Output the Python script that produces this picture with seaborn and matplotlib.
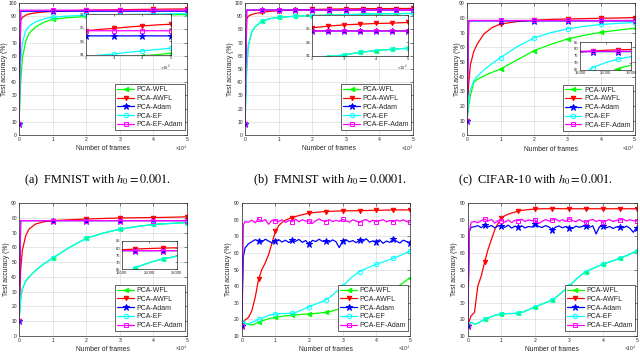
import matplotlib
matplotlib.use("Agg")
import matplotlib.pyplot as plt
import seaborn as sns

# ---------------- data ----------------
LABELS = ["PCA-WFL", "PCA-AWFL", "PCA-Adam", "PCA-EF", "PCA-EF-Adam"]
COLORS = ["#00ff00", "#ff0000", "#0000ff", "#00ffff", "#ff00ff"]
MARKERS = ["<", "v", "*", "o", "s"]
FILLED = [True, True, True, False, False]

X_TICKS = [0, 10000, 20000, 30000, 40000, 50000]
X_TICKLABELS = ["0", "1", "2", "3", "4", "5"]

# smooth curves (panels a-d), x in frames
X_SMOOTH = [0, 500, 1000, 2000, 3000, 5000, 7500, 10000, 15000, 20000,
            25000, 30000, 35000, 40000, 45000, 50000]

A_WFL = [8, 40, 58, 71, 77, 82, 85.5, 87.7, 89.0, 89.7, 90.2, 90.5, 90.75, 90.9, 91.05, 91.25]
A_AWFL = [8, 87, 89, 90.8, 91.7, 92.6, 93.2, 93.6, 94.2, 94.55, 94.75, 94.9, 95.1, 95.25, 95.4, 95.5]
A_ADAM = [8, 93.8, 93.8, 93.8, 93.8, 93.8, 93.8, 93.8, 93.8, 93.8, 93.8, 93.8, 93.8, 93.8, 93.8, 93.8]
A_EF = [8, 55, 70, 79, 82.5, 85.8, 88, 89.3, 90.2, 90.7, 91.0, 91.15, 91.4, 91.6, 91.8, 92.0]
A_EFADAM = [8, 94.55, 94.55, 94.55, 94.55, 94.55, 94.55, 94.55, 94.55, 94.55, 94.55, 94.55, 94.55, 94.55, 94.55, 94.55]

B_WFL = [8, 50, 68, 78, 82, 86.3, 88.2, 89.1, 90.0, 90.5, 90.85, 91.1, 91.5, 91.75, 91.95, 92.1]
B_AWFL = [8, 88, 90, 91.3, 92, 92.9, 93.7, 94.2, 94.7, 95.1, 95.35, 95.55, 95.65, 95.75, 95.8, 95.9]
B_ADAM = [8, 94.65, 94.65, 94.65, 94.65, 94.65, 94.65, 94.65, 94.65, 94.65, 94.65, 94.65, 94.65, 94.65, 94.65, 94.65]
B_EF = [8, 50, 68, 78, 82, 86.3, 88.2, 89.1, 90.0, 90.5, 90.85, 91.1, 91.5, 91.75, 91.95, 92.1]
B_EFADAM = [8, 94.65, 94.65, 94.65, 94.65, 94.65, 94.65, 94.65, 94.65, 94.65, 94.65, 94.65, 94.65, 94.65, 94.65, 94.65]

C_WFL = [10, 20, 27, 36, 38, 40.5, 43, 45.2, 51.5, 57.7, 62, 65.7, 68.2, 70.2, 71.7, 73.0]
C_AWFL = [10, 35, 48, 57, 62, 69, 73.5, 75.9, 77.6, 78.5, 79.0, 79.3, 79.55, 79.8, 80.0, 80.3]
C_ADAM = [10, 78.0, 78.0, 78.0, 78.0, 78.0, 78.0, 78.0, 78.0, 78.0, 78.0, 78.0, 78.0, 78.0, 78.0, 78.0]
C_EF = [10, 25, 31, 37, 40, 44.5, 49, 53.0, 60.5, 66.4, 70.0, 72.6, 74.3, 75.6, 76.3, 76.9]
C_EFADAM = [10, 78.3, 78.3, 78.3, 78.3, 78.3, 78.3, 78.3, 78.3, 78.3, 78.3, 78.3, 78.3, 78.3, 78.3, 78.3]

D_WFL = [10, 25, 32, 37, 40, 44.5, 49, 52.7, 60.0, 66.2, 69.7, 72.4, 74.2, 75.6, 76.3, 76.8]
D_AWFL = [10, 45, 58, 68, 72.5, 76, 77.5, 78.2, 78.8, 79.3, 79.7, 80.0, 80.2, 80.3, 80.5, 80.8]
D_ADAM = [10, 78.2, 78.2, 78.2, 78.2, 78.2, 78.2, 78.2, 78.2, 78.2, 78.2, 78.2, 78.2, 78.2, 78.2, 78.2]
D_EF = [10, 25, 32, 37, 40, 44.5, 49, 52.7, 60.0, 66.2, 69.7, 72.4, 74.2, 75.6, 76.3, 76.8]
D_EFADAM = [10, 78.2, 78.2, 78.2, 78.2, 78.2, 78.2, 78.2, 78.2, 78.2, 78.2, 78.2, 78.2, 78.2, 78.2, 78.2]

# noisy curves (panels e, f), x in frames
X_NOISY = [0, 500,
           1000, 2000, 3000, 4000, 5000, 6000, 7000, 8000, 9000, 10000,
           11000, 12000, 13000, 14000, 15000, 16000, 17000, 18000, 19000, 20000,
           21000, 22000, 23000, 24000, 25000, 26000, 27000, 28000, 29000, 30000,
           31000, 32000, 33000, 34000, 35000, 36000, 37000, 38000, 39000, 40000,
           41000, 42000, 43000, 44000, 45000, 46000, 47000, 48000, 49000, 50000]

E_WFL = [17.5, 17.8,
         17.5, 16.8, 16.5, 17.2, 18.2, 18.9, 19.6, 20.2, 20.7, 21.1,
         21.4, 21.7, 22.0, 22.2, 22.4, 22.6, 22.7, 22.9, 23.0, 23.1,
         23.3, 23.5, 23.7, 23.9, 24.1, 24.5, 25.0, 25.6, 26.1, 26.6,
         27.1, 27.6, 28.2, 28.8, 29.4, 30.1, 30.8, 31.6, 32.4, 33.2,
         34.1, 35.0, 36.0, 37.0, 38.1, 39.3, 40.6, 42.0, 43.5, 45.0]
E_AWFL = [16, 18,
          19.5, 21, 25, 33, 44, 50, 54, 59, 66, 73,
          76.5, 78.5, 79.8, 80.7, 81.3, 82.0, 82.6, 83.1, 83.6, 84.0,
          84.3, 84.5, 84.7, 84.9, 85.0, 85.1, 85.2, 85.3, 85.35, 85.4,
          85.45, 85.5, 85.5, 85.55, 85.6, 85.6, 85.65, 85.7, 85.75, 85.8,
          85.8, 85.85, 85.9, 85.95, 86.0, 86.0, 86.0, 86.0, 86.0, 86.0]
E_ADAM = [16, 58,
          63.0, 65.5, 66.8, 68.0, 67.4, 66.5, 68.3, 67.2, 66.0, 67.4,
          68.0, 66.6, 67.7, 66.3, 67.8, 67.0, 68.2, 66.4, 67.5, 65.2,
          67.6, 66.9, 68.3, 67.0, 67.2, 66.5, 67.9, 66.8, 63.2, 67.4,
          68.0, 66.7, 67.5, 66.2, 67.8, 67.0, 68.6, 66.5, 67.3, 66.8,
          67.9, 65.8, 67.2, 66.4, 68.2, 67.1, 66.0, 67.7, 66.9, 66.2]
E_EF = [18, 18,
        17.5, 17.0, 18.0, 19.0, 19.8, 20.5, 21.5, 22.3, 22.8, 23.1,
        23.3, 23.4, 23.4, 23.5, 23.5, 24.0, 24.8, 25.7, 26.6, 27.5,
        28.3, 29.1, 29.9, 30.7, 31.6, 33.0, 34.6, 36.4, 38.2, 40.0,
        42.0, 44.0, 45.8, 47.3, 48.7, 49.7, 50.6, 51.5, 52.3, 53.1,
        53.9, 54.6, 55.3, 56.0, 56.8, 57.6, 58.4, 59.3, 60.2, 61.2]
E_EFADAM = [16, 77,
            79.0, 78.5, 79.8, 78.2, 80.5, 79.0, 80.2, 77.3, 79.8, 79.5,
            79.0, 80.0, 78.4, 79.6, 79.0, 80.4, 78.8, 80.1, 79.2, 79.3,
            77.8, 79.4, 80.6, 79.5, 79.0, 80.2, 78.9, 79.7, 79.1, 80.3,
            79.4, 78.6, 80.0, 79.3, 78.3, 79.6, 80.2, 78.7, 79.8, 78.9,
            79.5, 80.1, 78.8, 79.6, 78.9, 79.9, 79.2, 80.0, 79.0, 78.5]

F_WFL = [16, 17.5,
         18.0, 17.0, 17.5, 18.8, 19.9, 20.5, 21.5, 22.3, 22.8, 23.1,
         23.3, 23.4, 23.4, 23.5, 23.5, 24.0, 24.8, 25.7, 26.6, 27.5,
         28.3, 29.1, 29.9, 30.7, 31.6, 33.0, 34.6, 36.4, 38.2, 39.8,
         42.0, 44.0, 45.8, 47.3, 48.7, 49.7, 50.6, 51.5, 52.3, 53.1,
         53.9, 54.6, 55.3, 56.0, 56.8, 57.6, 58.4, 59.3, 60.2, 61.2]
F_AWFL = [16, 19,
          22.0, 24.0, 40.0, 46.0, 54.5, 62.0, 68.0, 74.0, 78.0, 81.0,
          82.5, 83.4, 84.1, 84.7, 85.3, 85.7, 86.0, 86.2, 86.4, 86.6,
          86.6, 86.7, 86.7, 86.7, 86.8, 86.8, 86.8, 86.7, 86.7, 86.7,
          86.7, 86.7, 86.7, 86.7, 86.7, 86.7, 86.7, 86.7, 86.7, 86.7,
          86.7, 86.7, 86.7, 86.7, 86.7, 86.7, 86.7, 86.7, 86.7, 86.7]
F_ADAM = [16, 73,
          75.5, 75.8, 76.5, 75.3, 76.9, 75.8, 76.6, 75.2, 76.4, 76.3,
          75.5, 76.8, 75.0, 76.2, 75.5, 76.4, 75.1, 76.0, 75.6, 77.5,
          76.0, 75.4, 76.5, 75.8, 73.9, 75.6, 76.3, 75.2, 76.0, 75.3,
          74.8, 76.2, 75.5, 76.1, 76.5, 75.4, 76.4, 71.5, 75.9, 76.3,
          75.2, 76.0, 74.8, 75.7, 75.9, 75.1, 76.2, 74.9, 72.5, 75.3]
F_EF = [16, 17.5,
        18.0, 17.0, 17.5, 18.8, 19.9, 20.5, 21.5, 22.3, 22.8, 23.1,
        23.3, 23.4, 23.4, 23.5, 23.5, 24.0, 24.8, 25.7, 26.6, 27.5,
        28.3, 29.1, 29.9, 30.7, 31.6, 33.0, 34.6, 36.4, 38.2, 39.8,
        42.0, 44.0, 45.8, 47.3, 48.7, 49.7, 50.6, 51.5, 52.3, 53.1,
        53.9, 54.6, 55.3, 56.0, 56.8, 57.6, 58.4, 59.3, 60.2, 61.2]
F_EFADAM = [16, 73,
            78.5, 79.0, 78.2, 79.5, 80.5, 79.2, 80.3, 78.0, 79.6, 79.5,
            78.6, 79.9, 78.3, 79.7, 79.5, 80.4, 79.0, 80.0, 79.4, 79.9,
            77.8, 79.0, 80.2, 79.3, 79.9, 80.6, 79.2, 80.1, 79.0, 80.7,
            79.6, 78.8, 80.2, 79.1, 78.5, 79.7, 80.3, 79.0, 79.8, 78.5,
            79.6, 80.2, 79.0, 79.7, 79.9, 80.4, 79.3, 80.1, 79.5, 79.3]

CAPTIONS = ["(a)  FMNIST with $h_0 = 0.001$.",
            "(b)  FMNIST with $h_0 = 0.0001$.",
            "(c)  CIFAR-10 with $h_0 = 0.001$."]

# ---------------- style ----------------
sns.set_style("white")
plt.rcParams['font.family'] = ['Liberation Sans', 'DejaVu Sans']
plt.rcParams['mathtext.fontset'] = 'stix'

W, H = 640, 353
fig = plt.figure(figsize=(W / 100, H / 100), dpi=100)


def px_axes(x0, x1, ytop, ybot):
    return fig.add_axes([x0 / W, 1 - ybot / H, (x1 - x0) / W, (ybot - ytop) / H])


MS = {"<": 3.2, "v": 3.2, "*": 4.6, "o": 3.2, "s": 3.0}
DARK = "#262626"


def draw_series(ax, x, ys, me):
    for y, c, m, f in zip(ys, COLORS, MARKERS, FILLED):
        sns.lineplot(x=x, y=y, ax=ax, color=c, marker=m, markevery=me,
                     markersize=MS[m], markeredgecolor=c,
                     markerfacecolor=(c if f else "none"), markeredgewidth=0.7,
                     linewidth=0.9, estimator=None, errorbar=None, sort=False,
                     legend=False)
    return ax.lines[-5:]


def style_common(ax, labelsize, ticklen):
    ax.tick_params(direction="in", length=ticklen, width=0.4, labelsize=labelsize,
                   pad=1.5, top=True, right=True, colors=DARK)
    for s in ax.spines.values():
        s.set_color(DARK)
        s.set_linewidth(0.5)
        s.set_visible(True)


def style_main(ax, ylim, yticks, ylab_x):
    ax.set_xlim(0, 50000)
    ax.set_ylim(*ylim)
    ax.set_xticks(X_TICKS)
    ax.set_xticklabels(X_TICKLABELS)
    ax.set_yticks(yticks)
    ax.set_yticklabels([str(v) for v in yticks])
    ax.grid(True, color="#dcdcdc", linewidth=0.5)
    ax.set_axisbelow(True)
    style_common(ax, 3.6, 2.0)
    ax.set_xlabel("Number of frames", fontsize=4.85, color=DARK)
    ax.xaxis.set_label_coords(0.5, -14 / 132)
    ax.xaxis.label.set_va("center")
    ax.set_ylabel("Test accuracy (%)", fontsize=4.85, color=DARK)
    ax.yaxis.set_label_coords(ylab_x, 0.5)
    ax.yaxis.label.set_va("center")
    ax.text(1.0, -14 / 132, "\u00d710$^{4}$", transform=ax.transAxes, ha="right",
            va="center", fontsize=3.6, color=DARK)


def add_legend(ax, handles):
    leg = ax.legend(handles, LABELS, loc="lower right", bbox_to_anchor=(0.99, 0.035),
                    fontsize=5.0, frameon=True, fancybox=False, edgecolor=DARK,
                    framealpha=1, borderpad=0.3, labelspacing=0.25, handlelength=2.4,
                    handletextpad=0.4, borderaxespad=0, numpoints=1)
    leg.get_frame().set_linewidth(0.5)


def style_inset(ax, xlim, ylim, xticks, xticklabels, yticks, offset):
    ax.set_xlim(*xlim)
    ax.set_ylim(*ylim)
    ax.set_xticks(xticks)
    ax.set_xticklabels(xticklabels)
    ax.set_yticks(yticks)
    ax.set_yticklabels([str(v) for v in yticks])
    ax.set_facecolor("white")
    ax.grid(False)
    style_common(ax, 3.0, 1.5)
    ax.tick_params(pad=1.0)
    ax.set_xlabel("")
    ax.set_ylabel("")
    if offset:
        ax.text(1.0, -0.32, "\u00d710$^{4}$", transform=ax.transAxes, ha="right",
                va="center", fontsize=3.0, color=DARK)


ME_1 = [0, 7, 9, 11, 13, 15]
ME_05 = [0, 5, 7, 8, 9, 10, 11, 12, 13, 14, 15]
ME_NOISY = [0, 6, 11, 16, 21, 26, 31, 36, 41, 46, 51]

# ---- panel a ----
ax = px_axes(19, 187, 3, 135)
h = draw_series(ax, X_SMOOTH, [A_WFL, A_AWFL, A_ADAM, A_EF, A_EFADAM], ME_1)
style_main(ax, (0, 100), list(range(0, 101, 10)), -14 / 168)
add_legend(ax, h)
ins = px_axes(86, 170.7, 14, 55)
draw_series(ins, X_SMOOTH, [A_WFL, A_AWFL, A_ADAM, A_EF, A_EFADAM], ME_1)
style_inset(ins, (20000, 50000), (91, 97), [20000, 30000, 40000, 50000],
            ["2", "3", "4", "5"], [91, 93, 95, 97], True)

# ---- panel b ----
ax = px_axes(245, 413, 3, 135)
h = draw_series(ax, X_SMOOTH, [B_WFL, B_AWFL, B_ADAM, B_EF, B_EFADAM], ME_05)
style_main(ax, (0, 100), list(range(0, 101, 10)), -15 / 168)
add_legend(ax, h)
ins = px_axes(311.7, 407.7, 15, 55.7)
draw_series(ins, X_SMOOTH, [B_WFL, B_AWFL, B_ADAM, B_EF, B_EFADAM], ME_05)
style_inset(ins, (20000, 50000), (91, 97), [20000, 30000, 40000, 50000],
            ["2", "3", "4", "5"], [91, 93, 95, 97], True)

# ---- panel c ----
ax = px_axes(467, 634.5, 3.3, 135.4)
h = draw_series(ax, X_SMOOTH, [C_WFL, C_AWFL, C_ADAM, C_EF, C_EFADAM], ME_1)
style_main(ax, (0, 90), list(range(0, 91, 10)), -10 / 168)
add_legend(ax, h)
ins = px_axes(580, 631, 42, 69.5)
draw_series(ins, X_SMOOTH, [C_WFL, C_AWFL, C_ADAM, C_EF, C_EFADAM], ME_1)
style_inset(ins, (15000, 35000), (65, 85), [15000, 25000, 35000],
            ["15000", "25000", "35000"], [65, 70, 75, 80, 85], False)

# ---- panel d ----
ax = px_axes(19, 187, 203.3, 335.7)
h = draw_series(ax, X_SMOOTH, [D_WFL, D_AWFL, D_ADAM, D_EF, D_EFADAM], ME_1)
style_main(ax, (0, 90), list(range(0, 91, 10)), -12 / 168)
add_legend(ax, h)
ins = px_axes(121.7, 176.7, 241, 269.3)
draw_series(ins, X_SMOOTH, [D_WFL, D_AWFL, D_ADAM, D_EF, D_EFADAM], ME_1)
style_inset(ins, (15000, 35000), (65, 85), [15000, 25000, 35000],
            ["15000", "25000", "35000"], [65, 70, 75, 80, 85], False)

# ---- panel e ----
ax = px_axes(241.7, 410, 203.3, 335.7)
h = draw_series(ax, X_NOISY, [E_WFL, E_AWFL, E_ADAM, E_EF, E_EFADAM], ME_NOISY)
style_main(ax, (10, 90), list(range(10, 91, 10)), -13 / 168)
add_legend(ax, h)

# ---- panel f ----
ax = px_axes(467.7, 636.7, 203.3, 335.7)
h = draw_series(ax, X_NOISY, [F_WFL, F_AWFL, F_ADAM, F_EF, F_EFADAM], ME_NOISY)
style_main(ax, (10, 90), list(range(10, 91, 10)), -13 / 169)
add_legend(ax, h)

# ---- captions ----
for cx, txt in zip([98, 330, 535], CAPTIONS):
    fig.text(cx / W, 1 - 180 / H, txt, ha="center", va="center", fontsize=8.8,
             family=["Liberation Serif", "DejaVu Serif"], color="black")

fig.savefig("out.png", dpi=100, facecolor="white")
